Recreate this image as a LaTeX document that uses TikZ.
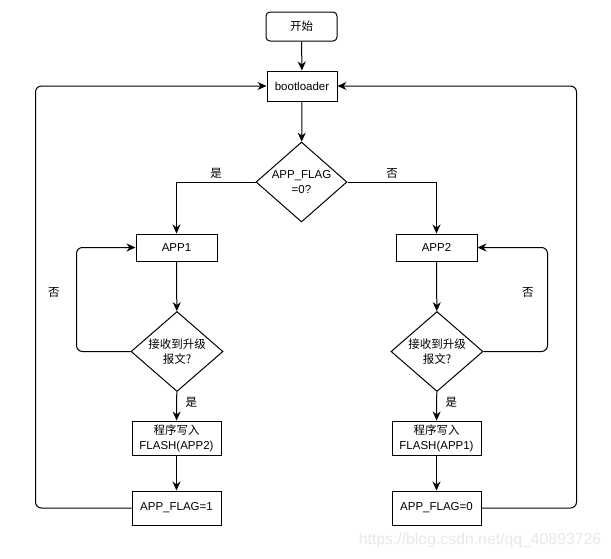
\documentclass[tikz,border=0pt]{standalone}
\usepackage{fontspec}
\setmainfont{Liberation Sans}
\newfontfamily\cjk{Noto Sans CJK SC}
\usetikzlibrary{shapes.geometric}
\usetikzlibrary{arrows.meta}
\tikzset{x=1pt, y=-1pt,
>={Stealth[length=9pt, width=8pt]}, % Arrow tip for every connector
every node/.style={ % Sets the text for all nodes
font=\fontsize{11.5}{15}\selectfont,
align=center},
proc/.style={ % Plain process box
draw, line width=1pt,
minimum width=81pt, minimum height=27pt,
inner sep=2pt},
startbox/.style={proc, rounded corners=4pt},
decide/.style={ % Decision diamond
draw, diamond, line width=1pt,
minimum width=91pt, minimum height=80pt,
inner sep=0pt, aspect=1.1},
flow/.style={ % Sets the properties for each connector
->, line width=1pt},
loop/.style={flow, rounded corners=6pt}}

\begin{document}
\begin{tikzpicture}
	\useasboundingbox (0,0) rectangle (611,558);
	\node[startbox, minimum width=71pt, minimum height=29pt] (start) at (301.5,26.5) {\cjk 开始};
	\node[proc, minimum width=70pt, minimum height=30pt] (boot) at (302,86) {bootloader};
	\node[decide] (flag) at (301.5,182) {APP\_FLAG\\=0?};
	\node[proc] (app1) at (176.5,247.5) {APP1};
	\node[proc] (app2) at (436.5,247.5) {APP2};
	\node[decide, minimum width=92pt] (chk1) at (177,351.5) {\cjk 接收到升级\\\cjk 报文?};
	\node[decide, minimum width=92pt] (chk2) at (437,351.5) {\cjk 接收到升级\\\cjk 报文?};
	\node[proc, minimum width=89pt, minimum height=34pt] (wr1) at (176.5,438) {{\cjk 程序写入}\\FLASH(APP2)};
	\node[proc, minimum width=89pt, minimum height=34pt] (wr2) at (436.5,438) {{\cjk 程序写入}\\FLASH(APP1)};
	\node[proc, minimum width=89pt, minimum height=34pt] (flag1) at (176.5,508) {APP\_FLAG=1};
	\node[proc, minimum width=89pt, minimum height=34pt] (flag0) at (436.5,508) {APP\_FLAG=0};
	\node[text=black!9, font=\fontsize{15.8}{16}\selectfont] (wmark) at (480,540) {https://blog.csdn.net/qq\_40893726};

	\draw[flow] (start) -- (boot);
	\draw[flow] (boot) -- (flag);
	\draw[flow] (flag.west) -| node[pos=0.25, above] {\cjk 是} (app1);
	\draw[flow] (flag.east) -| node[pos=0.25, above] {\cjk 否} (app2);
	\draw[flow] (app1) -- (chk1);
	\draw[flow] (app2) -- (chk2);
	\draw[flow] (chk1) -- node[right, xshift=5pt, yshift=4pt] {\cjk 是} (wr1);
	\draw[flow] (chk2) -- node[right, xshift=5pt, yshift=4pt] {\cjk 是} (wr2);
	\draw[flow] (wr1) -- (flag1);
	\draw[flow] (wr2) -- (flag0);
	\draw[loop] (chk1.west) -- ++(-54,0) |- node[pos=0.285, left=13pt] {\cjk 否} (app1.west);
	\draw[loop] (chk2.east) -- ++(64,0) |- node[pos=0.285, left=10pt] {\cjk 否} (app2.east);
	\draw[loop] (flag1.west) -- ++(-96,0) |- (boot.west);
	\draw[loop] (flag0.east) -- ++(95,0) |- (boot.east);
\end{tikzpicture}
\end{document}
